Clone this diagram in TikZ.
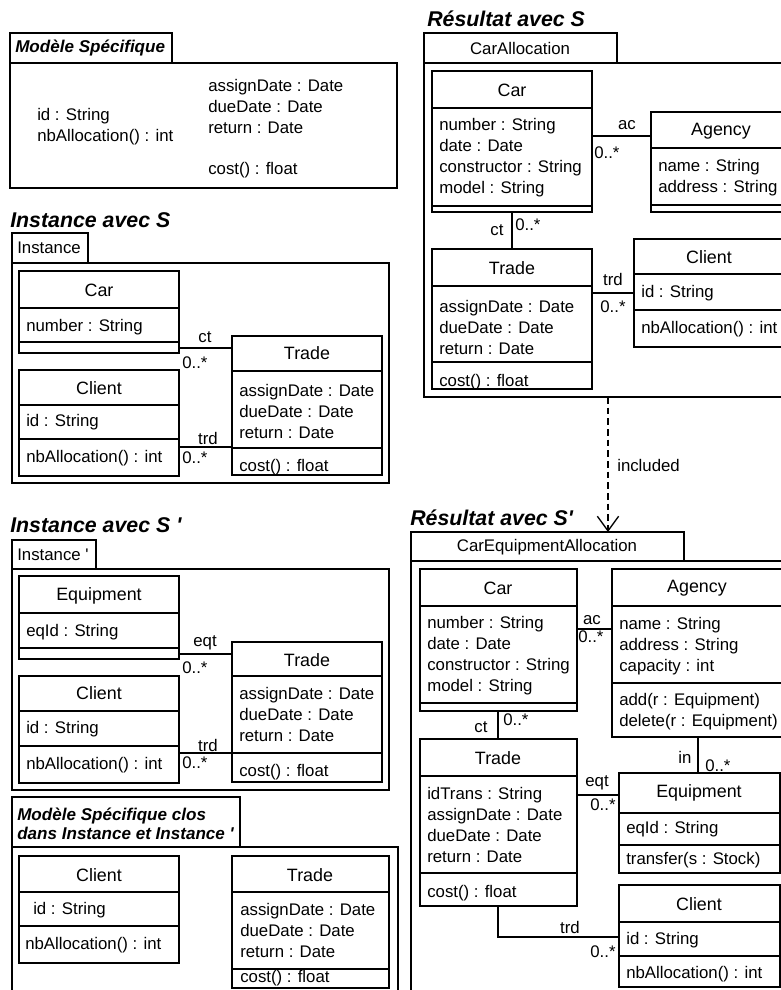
\documentclass[tikz,border=0pt]{standalone}
\usepackage{fontspec}
\setmainfont{Liberation Sans}[Ligatures=TeXOff]
\usetikzlibrary{fit,arrows.meta}
\newcommand\ubox[5]{\node[box,fit={(#2,#3) (#4,#5)}] (#1) {};}
\newcommand\udiv[2]{\draw[ln] (#1.west|-0,#2) -- (#1.east|-0,#2);}
\begin{document}
\begin{tikzpicture}[x=0.75pt,y=-0.75pt,
 box/.style={draw,line width=1pt,inner sep=0pt,outer sep=0pt,rectangle},
 ln/.style={line width=1pt},
 txt/.style={inner sep=0pt,anchor=west,align=left,font=\fontsize{12.6}{15.75}\selectfont},
 cname/.style={inner sep=0pt,font=\fontsize{13.4}{16}\selectfont},
 ttl/.style={inner sep=0pt,anchor=west,font=\fontsize{16}{19}\selectfont\bfseries\itshape},
 ttls/.style={inner sep=0pt,anchor=west,align=left,font=\fontsize{12.8}{14.25}\selectfont\bfseries\itshape},
 lbl/.style={inner sep=0pt,font=\fontsize{12.6}{15}\selectfont},
 lblw/.style={lbl,anchor=west},
]
\useasboundingbox (0,0) rectangle (781,990);
\clip (0,0) rectangle (781,990);

% ---------- Modele Specifique ----------
\ubox{msTab}{10}{33}{172}{63}
\ubox{msBody}{10}{63}{397}{188}
\node[ttls] (msT) at (15,48) {Modèle Spécifique};
\node[txt] (msA) at (37,127) {id : String\\nbAllocation() : int};
\node[txt] (msB) at (208,106) {assignDate : Date\\dueDate : Date\\return : Date};
\node[txt] (msC) at (208,170) {cost() : float};

% ---------- Instance avec S ----------
\node[ttl] (t1) at (10,220) {Instance avec S};
\ubox{iTab}{12}{233}{88}{263}
\ubox{iBody}{12}{263}{389}{483}
\node[txt] (iTabT) at (17,248) {Instance};
\ubox{carI}{19}{271}{179}{353}
\udiv{carI}{308}\udiv{carI}{342}
\node[cname] (carIn) at (99,290) {Car};
\node[txt] (carIa) at (26,327) {number : String};
\ubox{cliI}{19}{370}{179}{476}
\udiv{cliI}{405}\udiv{cliI}{439}
\node[cname] (cliIn) at (99,388) {Client};
\node[txt] (cliIa) at (26,422) {id : String};
\node[txt] (cliIm) at (26,458) {nbAllocation() : int};
\ubox{trI}{232}{336}{382}{475}
\udiv{trI}{371}\udiv{trI}{448}
\node[cname] (trIn) at (307,353) {Trade};
\node[txt] (trIa) at (239,411) {assignDate : Date\\dueDate : Date\\return : Date};
\node[txt] (trIm) at (239,467) {cost() : float};
\draw[ln] (carI.east|-0,348) -- (trI.west|-0,348);
\node[lbl] (ctI) at (205,337) {ct};
\node[lblw] (ctIm) at (182,363) {0..*};
\draw[ln] (cliI.east|-0,447) -- (trI.west|-0,447);
\node[lbl] (trdI) at (208,438) {trd};
\node[lblw] (trdIm) at (182,458) {0..*};

% ---------- Instance avec S' ----------
\node[ttl] (t2) at (10,525) {Instance avec S '};
\ubox{jTab}{12}{540}{96}{569}
\ubox{jBody}{12}{569}{389}{790}
\node[txt] (jTabT) at (17,555) {Instance '};
\ubox{eqJ}{19}{576}{179}{659}
\udiv{eqJ}{613}\udiv{eqJ}{648}
\node[cname] (eqJn) at (99,596) {Equipment};
\node[txt] (eqJa) at (26,632) {eqId : String};
\ubox{cliJ}{19}{676}{179}{783}
\udiv{cliJ}{711}\udiv{cliJ}{746}
\node[cname] (cliJn) at (99,693) {Client};
\node[txt] (cliJa) at (26,729) {id : String};
\node[txt] (cliJm) at (26,765) {nbAllocation() : int};
\ubox{trJ}{232}{642}{382}{782}
\udiv{trJ}{676}\udiv{trJ}{753}
\node[cname] (trJn) at (307,660) {Trade};
\node[txt] (trJa) at (239,714) {assignDate : Date\\dueDate : Date\\return : Date};
\node[txt] (trJm) at (239,772) {cost() : float};
\draw[ln] (eqJ.east|-0,654) -- (trJ.west|-0,654);
\node[lbl] (eqtJ) at (205,643) {eqt};
\node[lblw] (eqtJm) at (182,668) {0..*};
\draw[ln] (cliJ.east|-0,753) -- (trJ.west|-0,753);
\node[lbl] (trdJ) at (208,745) {trd};
\node[lblw] (trdJm) at (182,763) {0..*};

% ---------- Modele Specifique clos ----------
\ubox{kTab}{12}{797}{240}{847}
\ubox{kBody}{12}{847}{398}{1010}
\node[ttls] (kT) at (17,824) {Modèle Spécifique clos\\dans Instance et Instance '};
\ubox{cliK}{19}{856}{179}{963}
\udiv{cliK}{892}\udiv{cliK}{926}
\node[cname] (cliKn) at (99,875) {Client};
\node[txt] (cliKa) at (33,910) {id : String};
\node[txt] (cliKm) at (25,945) {nbAllocation() : int};
\ubox{trK}{232}{856}{389}{988}
\udiv{trK}{892}\udiv{trK}{969}
\node[cname] (trKn) at (310,875) {Trade};
\node[txt] (trKa) at (240,930) {assignDate : Date\\dueDate : Date\\return : Date};
\node[txt] (trKm) at (240,978) {cost() : float};

% ---------- Resultat avec S ----------
\node[ttl] (t3) at (427,19) {Résultat avec S};
\ubox{rTab}{424}{33}{617}{63}
\ubox{rBody}{424}{63}{800}{397}
\node[txt,anchor=center] (rTabT) at (520,48) {CarAllocation};
\ubox{carR}{432}{71}{592}{212}
\udiv{carR}{108}\udiv{carR}{206}
\node[cname] (carRn) at (512,90) {Car};
\node[txt] (carRa) at (439,158) {number : String\\date : Date\\constructor : String\\model : String};
\ubox{agR}{651}{112}{800}{212}
\udiv{agR}{148}\udiv{agR}{205}
\node[cname] (agRn) at (721,131) {Agency};
\node[txt] (agRa) at (658,178) {name : String\\address : String};
\draw[ln] (carR.east|-0,136) -- (agR.west|-0,136);
\node[lbl] (acR) at (627,125) {ac};
\node[lblw] (acRm) at (594,153) {0..*};
\ubox{trR}{432}{249}{592}{389}
\udiv{trR}{286}\udiv{trR}{362}
\node[cname] (trRn) at (512,268) {Trade};
\node[txt] (trRa) at (439,327) {assignDate : Date\\dueDate : Date\\return : Date};
\node[txt] (trRm) at (439,382) {cost() : float};
\draw[ln] (carR.south-|512,0) -- (trR.north-|512,0);
\node[lbl] (ctR) at (497,230) {ct};
\node[lblw] (ctRm) at (515,225) {0..*};
\ubox{cliR}{634}{239}{800}{347}
\udiv{cliR}{274}\udiv{cliR}{310}
\node[cname] (cliRn) at (709,257) {Client};
\node[txt] (cliRa) at (641,293) {id : String};
\node[txt] (cliRm) at (641,329) {nbAllocation() : int};
\draw[ln] (trR.east|-0,293) -- (cliR.west|-0,293);
\node[lbl] (trdR) at (613,279) {trd};
\node[lbl] (trdRm) at (613,307) {0..*};

% ---------- included ----------
\ubox{sTab}{411}{532}{684}{561}
\draw[ln,dash pattern=on 5pt off 3pt,-{Straight Barb[length=11pt,width=16pt,line width=1pt]}] (rBody.south-|608,0) -- (sTab.north-|608,0);
\node[lblw] (incl) at (617,465) {included};

% ---------- Resultat avec S' ----------
\node[ttl] (t4) at (410,518) {Résultat avec S'};
\ubox{sBody}{411}{561}{800}{1010}
\node[txt,anchor=center] (sTabT) at (547,547) {CarEquipmentAllocation};
\ubox{carS}{420}{569}{577}{711}
\udiv{carS}{606}\udiv{carS}{703}
\node[cname] (carSn) at (498,588) {Car};
\node[txt] (carSa) at (427,656) {number : String\\date : Date\\constructor : String\\model : String};
\ubox{agS}{612}{569}{800}{737}
\udiv{agS}{606}\udiv{agS}{683}
\node[cname] (agSn) at (697,588) {Agency};
\node[txt] (agSa) at (619,646) {name : String\\address : String\\capacity : int};
\node[txt] (agSm) at (619,712) {add(r : Equipment)\\delete(r : Equipment)};
\draw[ln] (carS.east|-0,629) -- (agS.west|-0,629);
\node[lbl] (acS) at (592,620) {ac};
\node[lblw] (acSm) at (578,637) {0..*};
\ubox{trS}{420}{739}{577}{906}
\udiv{trS}{776}\udiv{trS}{873}
\node[cname] (trSn) at (498,758) {Trade};
\node[txt] (trSa) at (427,825) {idTrans : String\\assignDate : Date\\dueDate : Date\\return : Date};
\node[txt] (trSm) at (427,893) {cost() : float};
\draw[ln] (carS.south-|498,0) -- (trS.north-|498,0);
\node[lbl] (ctS) at (481,727) {ct};
\node[lblw] (ctSm) at (503,720) {0..*};
\ubox{eqS}{619}{773}{780}{873}
\udiv{eqS}{813}\udiv{eqS}{845}
\node[cname] (eqSn) at (699,793) {Equipment};
\node[txt] (eqSa) at (626,829) {eqId : String};
\node[txt] (eqSm) at (626,860) {transfer(s : Stock)};
\draw[ln] (agS.south-|698,0) -- (eqS.north-|698,0);
\node[lbl] (inS) at (685,757) {in};
\node[lblw] (inSm) at (705,766) {0..*};
\draw[ln] (trS.east|-0,795) -- (eqS.west|-0,795);
\node[lbl] (eqtS) at (597,783) {eqt};
\node[lbl] (eqtSm) at (603,805) {0..*};
\ubox{cliS}{619}{885}{780}{987}
\udiv{cliS}{922}\udiv{cliS}{956}
\node[cname] (cliSn) at (699,904) {Client};
\node[txt] (cliSa) at (626,940) {id : String};
\node[txt] (cliSm) at (626,974) {nbAllocation() : int};
\draw[ln] (trS.south-|498,0) |- (cliS.west|-0,937);
\node[lbl] (trdS) at (570,927) {trd};
\node[lbl] (trdSm) at (603,952) {0..*};
\end{tikzpicture}
\end{document}
